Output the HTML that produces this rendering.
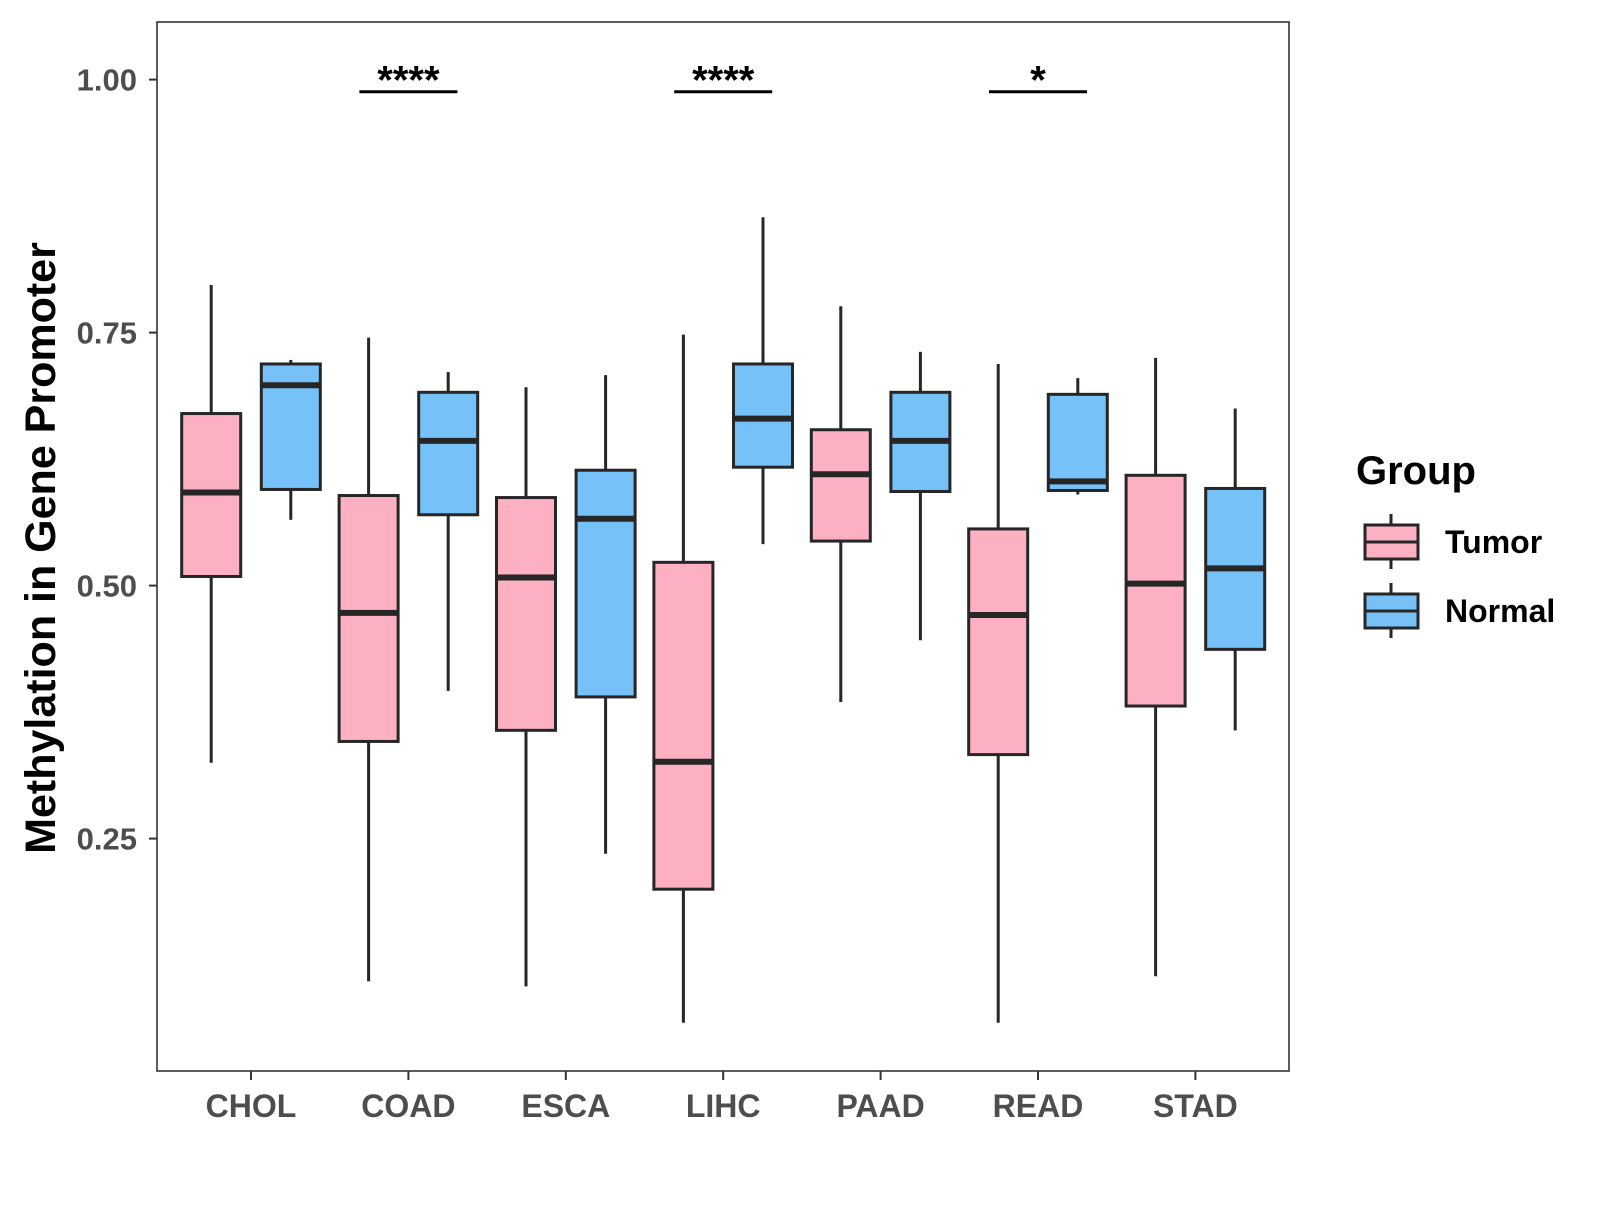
<!DOCTYPE html>
<html><head><meta charset="utf-8"><style>
body{margin:0;background:#fff;}
svg text{font-family:"Liberation Sans",Arial,sans-serif;font-weight:bold;}
</style></head><body>
<svg id="chart" width="1600" height="1200" xmlns="http://www.w3.org/2000/svg">
<rect x="0" y="0" width="1600" height="1200" fill="#fff"/>
<g id="plot"></g>
</svg>
<script>
const categories = ["CHOL","COAD","ESCA","LIHC","PAAD","READ","STAD"];
const tumorLow = [0.325,0.109,0.104,0.068,0.385,0.068,0.114];
const tumorQ1  = [0.509,0.346,0.357,0.200,0.544,0.333,0.381];
const tumorMed = [0.592,0.473,0.508,0.326,0.610,0.471,0.502];
const tumorQ3  = [0.670,0.589,0.587,0.523,0.654,0.556,0.609];
const tumorHigh= [0.797,0.745,0.696,0.748,0.776,0.719,0.725];
const normalLow = [0.565,0.396,0.235,0.541,0.446,0.590,0.357];
const normalQ1  = [0.595,0.570,0.390,0.617,0.593,0.594,0.437];
const normalMed = [0.698,0.643,0.566,0.665,0.643,0.603,0.517];
const normalQ3  = [0.719,0.691,0.614,0.719,0.691,0.689,0.596];
const normalHigh= [0.723,0.711,0.708,0.864,0.731,0.705,0.675];
const yTicks = [0.25,0.50,0.75,1.00];
const yTickLabels = ["0.25","0.50","0.75","1.00"];
const sigCategories = ["COAD","LIHC","READ"];
const sigLabels = ["****","****","*"];
const sigLevel = 0.988;

const NS="http://www.w3.org/2000/svg";
const g=document.getElementById('plot');
const PX0=157, PX1=1289, PY0=22, PY1=1071;
function y(v){return 79.6+(1-v)*1012;}
function x(i){return 251+i*157.4;}
function mk(tag,attrs,parent){const e=document.createElementNS(NS,tag);for(const k in attrs)e.setAttribute(k,attrs[k]);(parent||g).appendChild(e);return e;}

const panel=mk('rect',{x:PX0,y:PY0,width:PX1-PX0,height:PY1-PY0,fill:'none',stroke:'#333',"stroke-width":1.6});



yTicks.forEach((v,i)=>{
  const t=mk('line',{x1:PX0-8,x2:PX0,y1:y(v),y2:y(v),stroke:'#333',"stroke-width":2});
  
  
  const l=mk('text',{x:PX0-20,y:y(v)+11,"text-anchor":"end","font-size":31,fill:'#4d4d4d'});
  l.textContent=yTickLabels[i];
  
  
});
categories.forEach((c,i)=>{
  const t=mk('line',{x1:x(i),x2:x(i),y1:PY1,y2:PY1+9,stroke:'#333',"stroke-width":2});
  
  
  const l=mk('text',{x:x(i),y:1117,"text-anchor":"middle","font-size":32,fill:'#4d4d4d'});
  l.textContent=c;
  
  
});

function box(cx,lo,q1,md,q3,hi,fill,name){
  const grp=mk('g',{});
  
  
  const w=59;
  mk('line',{x1:cx,x2:cx,y1:y(hi),y2:y(q3),stroke:'#262626',"stroke-width":3},grp);
  mk('line',{x1:cx,x2:cx,y1:y(q1),y2:y(lo),stroke:'#262626',"stroke-width":3},grp);
  mk('rect',{x:cx-w/2,y:y(q3),width:w,height:y(q1)-y(q3),fill:fill,stroke:'#262626',"stroke-width":3},grp);
  mk('line',{x1:cx-w/2,x2:cx+w/2,y1:y(md),y2:y(md),stroke:'#262626',"stroke-width":6},grp);
}
categories.forEach((c,i)=>{
  box(x(i)-39.8,tumorLow[i],tumorQ1[i],tumorMed[i],tumorQ3[i],tumorHigh[i],'#FCB0C2','box-tumor-'+c.toLowerCase());
  box(x(i)+39.8,normalLow[i],normalQ1[i],normalMed[i],normalQ3[i],normalHigh[i],'#76C1F7','box-normal-'+c.toLowerCase());
});
sigCategories.forEach((c,k)=>{
  const i=categories.indexOf(c);
  const b=mk('line',{x1:x(i)-49,x2:x(i)+49,y1:y(sigLevel),y2:y(sigLevel),stroke:'#000',"stroke-width":3});
  
  
  const t=mk('text',{x:x(i),y:y(sigLevel)+2,"text-anchor":"middle","font-size":40,fill:'#000'});
  t.textContent=sigLabels[k];
  
  
});
const yt=mk('text',{x:0,y:0,transform:'translate(55,548) rotate(-90)',"text-anchor":"middle","font-size":43,fill:'#000'});
yt.textContent='Methylation in Gene Promoter';


const lg=mk('g',{});


const lt=mk('text',{x:1356,y:484,"font-size":40,fill:'#000'},lg);
lt.textContent='Group';


[["Tumor","#FCB0C2",542],["Normal","#76C1F7",611]].forEach(([lab,col,cy])=>{
  const e=mk('g',{},lg);
  
  
  mk('line',{x1:1391,x2:1391,y1:cy-28,y2:cy+27,stroke:'#262626',"stroke-width":3},e);
  mk('rect',{x:1365,y:cy-17,width:53,height:34,fill:col,stroke:'#262626',"stroke-width":3},e);
  mk('line',{x1:1365,x2:1418,y1:cy,y2:cy,stroke:'#262626',"stroke-width":3},e);
  const t=mk('text',{x:1445,y:cy+11,"font-size":32,fill:'#000'},e);
  t.textContent=lab;
});
</script>
</body></html>
